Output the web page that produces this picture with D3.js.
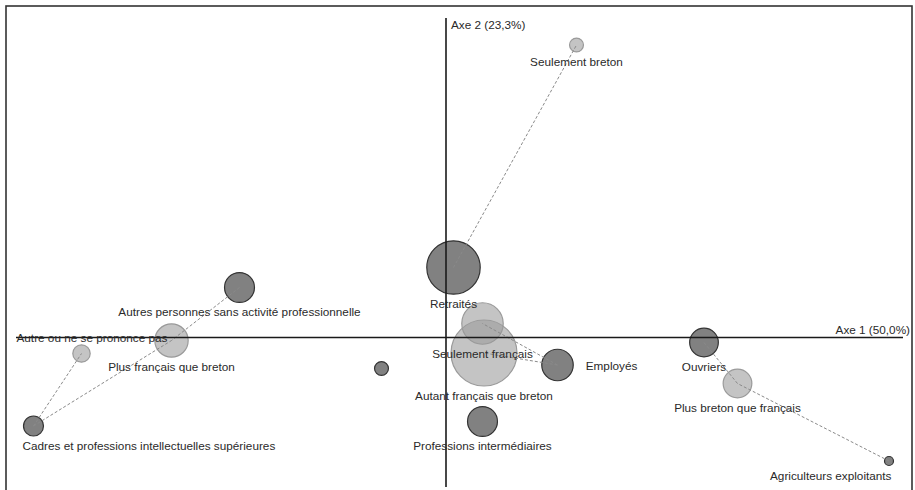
<!DOCTYPE html>
<html>
<head>
<meta charset="utf-8">
<script src="https://cdn.jsdelivr.net/npm/d3@7"></script>
<style>
  html, body { margin: 0; padding: 0; background: #fff; }
  svg { display: block; }
  text { font-family: "Liberation Sans", Arial, Helvetica, sans-serif; }
</style>
</head>
<body>
<svg id="chart" width="915" height="490"></svg>
<script>
// ---- Data (coordinates on the two factorial axes, weights = masses) ----
const categoryNames = [
  "Retraités",
  "Autres personnes sans activité professionnelle",
  "Cadres et professions intellectuelles supérieures",
  "",
  "Employés",
  "Ouvriers",
  "Agriculteurs exploitants",
  "Professions intermédiaires"
];
const categoryX = [0.015, -0.413, -0.825, -0.129, 0.223, 0.516, 0.886, 0.073];
const categoryY = [0.140, 0.100, -0.177, -0.062, -0.055, -0.010, -0.247, -0.168];
const categoryWeight = [23.6, 7.4, 3.3, 1.6, 8.2, 6.8, 0.67, 7.4];

const identityNames = [
  "Seulement breton",
  "Plus breton que français",
  "Autant français que breton",
  "Plus français que breton",
  "Seulement français",
  "Autre ou ne se prononce pas"
];
const identityX = [0.261, 0.583, 0.076, -0.549, 0.073, -0.729];
const identityY = [0.585, -0.092, -0.031, -0.006, 0.028, -0.032];
const identityWeight = [1.6, 6.8, 36, 9.2, 14.2, 2.5];

const links = [
  ["Retraités", "Seulement breton"],
  ["Autres personnes sans activité professionnelle", "Plus français que breton"],
  ["Cadres et professions intellectuelles supérieures", "Plus français que breton"],
  ["Cadres et professions intellectuelles supérieures", "Autre ou ne se prononce pas"],
  ["Employés", "Seulement français"],
  ["Employés", "Autant français que breton"],
  ["Ouvriers", "Plus breton que français"],
  ["Agriculteurs exploitants", "Plus breton que français"]
];

const axisLabels = ["Axe 1 (50,0%)", "Axe 2 (23,3%)"];

// ---- Layout ----
const labelPlacement = {
  "Employés": "right",
  "Cadres et professions intellectuelles supérieures": "below-start",
  "Agriculteurs exploitants": "below-end",
  "Autre ou ne se prononce pas": "above"
};
const FS = "11.75px";

const svg = d3.select("#chart");
const x = d3.scaleLinear().domain([-0.86, 0.914]).range([16, 903]);
const y = d3.scaleLinear().domain([-0.299, 0.639]).range([487, 18]);
const r = d3.scaleSqrt().domain([0, 36]).range([0, 33]);

const points = [];
categoryNames.forEach((n, i) => points.push({name: n, x: categoryX[i], y: categoryY[i], w: categoryWeight[i], type: "cat"}));
identityNames.forEach((n, i) => points.push({name: n, x: identityX[i], y: identityY[i], w: identityWeight[i], type: "id"}));
const byName = {};
points.forEach(p => { if (p.name) byName[p.name] = p; });

// frame
svg.append("rect")
  .attr("x", 6).attr("y", 6).attr("width", 906).attr("height", 500)
  .attr("fill", "none").attr("stroke", "#333").attr("stroke-width", 1.6);

// circles
svg.append("g").selectAll("circle")
  .data(points.slice().sort((a, b) => b.w - a.w))
  .join("circle")
  .attr("cx", d => x(d.x))
  .attr("cy", d => y(d.y))
  .attr("r", d => r(d.w))
  .attr("fill", d => d.type === "cat" ? "#7a7a7a" : "#9c9c9c")
  .attr("fill-opacity", d => d.type === "cat" ? 0.95 : 0.6)
  .attr("stroke", d => d.type === "cat" ? "#333" : "#9a9a9a")
  .attr("stroke-width", 1.2);

// dashed links
svg.append("g").selectAll("line")
  .data(links)
  .join("line")
  .attr("x1", d => x(byName[d[0]].x))
  .attr("y1", d => y(byName[d[0]].y))
  .attr("x2", d => x(byName[d[1]].x))
  .attr("y2", d => y(byName[d[1]].y))
  .attr("stroke", "#8a8a8a")
  .attr("stroke-width", 1)
  .attr("stroke-dasharray", "3,2");

// axes
svg.append("line")
  .attr("x1", x(x.domain()[0])).attr("x2", x(x.domain()[1]))
  .attr("y1", y(0)).attr("y2", y(0))
  .attr("stroke", "#1a1a1a").attr("stroke-width", 1.6);
svg.append("line")
  .attr("x1", x(0)).attr("x2", x(0))
  .attr("y1", y(y.domain()[1])).attr("y2", y(y.domain()[0]))
  .attr("stroke", "#1a1a1a").attr("stroke-width", 1.6);

svg.append("text")
  .attr("x", 910).attr("y", y(0) - 4)
  .attr("text-anchor", "end")
  .attr("font-size", FS).attr("fill", "#2a2a2a")
  .text(axisLabels[0]);
svg.append("text")
  .attr("x", x(0) + 5).attr("y", 29)
  .attr("font-size", FS).attr("fill", "#2a2a2a")
  .text(axisLabels[1]);

// point labels
const lg = svg.append("g");
points.filter(p => p.name).forEach(p => {
  const cx = x(p.x), cy = y(p.y), rr = r(p.w);
  const place = labelPlacement[p.name] || "below";
  const t = lg.append("text")
    .attr("font-size", FS).attr("fill", "#2a2a2a")
    .text(p.name);
  const w = t.node().getComputedTextLength();
  let tx, ty;
  if (place === "right") {
    tx = cx + rr + 12.5; ty = cy + 5;
  } else if (place === "below-start") {
    tx = cx - rr - 1; ty = cy + rr + 14;
  } else if (place === "below-end") {
    tx = cx + rr - 2 - w; ty = cy + rr + 14;
  } else if (place === "above") {
    tx = Math.max(16.5, cx - w / 2); ty = cy - rr - 3;
  } else {
    tx = cx - w / 2; ty = cy + rr + 14;
  }
  t.attr("x", tx).attr("y", ty);
});
</script>
</body>
</html>
